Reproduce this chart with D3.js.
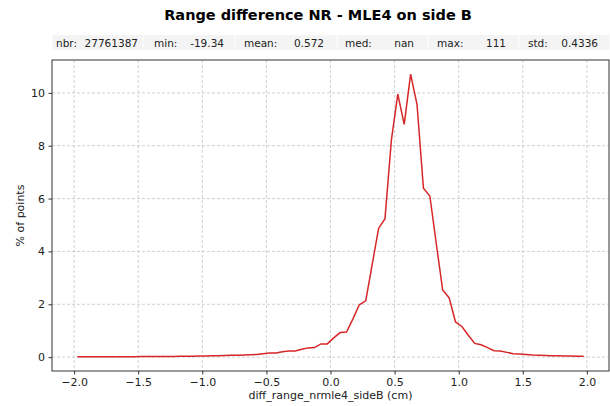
<!DOCTYPE html>
<html>
<head>
<meta charset="utf-8">
<script src="https://cdn.jsdelivr.net/npm/d3@7"></script>
<style>
  body { margin: 0; background: #fff; }
  svg { display: block; font-family: "DejaVu Sans", sans-serif; }
  .grid line { stroke: #c4c4c4; stroke-width: 0.8; stroke-dasharray: 3,2; }
  .axis path, .axis line { stroke: #333; }
  .axis text { fill: #222; font-size: 11px; font-family: "DejaVu Sans", sans-serif; }
</style>
</head>
<body>
<div id="chart"></div>
<script>
// bin centres (cm) and share of points (%) per bin
const binCenters = [
  -1.975, -1.925, -1.875, -1.825, -1.775, -1.725, -1.675, -1.625, -1.575, -1.525,
  -1.475, -1.425, -1.375, -1.325, -1.275, -1.225, -1.175, -1.125, -1.075, -1.025,
  -0.975, -0.925, -0.875, -0.825, -0.775, -0.725, -0.675, -0.625, -0.575, -0.525,
  -0.475, -0.425, -0.375, -0.325, -0.275, -0.225, -0.175, -0.125, -0.075, -0.025,
  0.025, 0.075, 0.125, 0.175, 0.225, 0.275, 0.325, 0.375, 0.425, 0.475,
  0.525, 0.575, 0.625, 0.675, 0.725, 0.775, 0.825, 0.875, 0.925, 0.975,
  1.025, 1.075, 1.125, 1.175, 1.225, 1.275, 1.325, 1.375, 1.425, 1.475,
  1.525, 1.575, 1.625, 1.675, 1.725, 1.775, 1.825, 1.875, 1.925, 1.975
];
const pctPoints = [
  0.01, 0.01, 0.01, 0.01, 0.01, 0.01, 0.01, 0.01, 0.01, 0.01,
  0.02, 0.02, 0.02, 0.02, 0.02, 0.02, 0.03, 0.03, 0.03, 0.04,
  0.04, 0.05, 0.05, 0.06, 0.07, 0.07, 0.08, 0.09, 0.10, 0.13,
  0.16, 0.16, 0.20, 0.23, 0.23, 0.30, 0.35, 0.36, 0.50, 0.50,
  0.73, 0.93, 0.95, 1.45, 1.98, 2.13, 3.50, 4.87, 5.24, 8.21,
  9.95, 8.81, 10.71, 9.56, 6.39, 6.10, 4.30, 2.54, 2.25, 1.33,
  1.16, 0.83, 0.52, 0.47, 0.36, 0.24, 0.23, 0.18, 0.13, 0.12,
  0.10, 0.08, 0.07, 0.06, 0.05, 0.05, 0.04, 0.04, 0.03, 0.03
];
const xTicks = [-2.0, -1.5, -1.0, -0.5, 0.0, 0.5, 1.0, 1.5, 2.0];
const yTicks = [0, 2, 4, 6, 8, 10];
const statNames = ["nbr:", "min:", "mean:", "med:", "max:", "std:"];
const statValues = ["27761387", "-19.34", "0.572", "nan", "111", "0.4336"];

const width = 610, height = 406;
const margin = {top: 60, right: 1, bottom: 35, left: 52};

const svg = d3.select("#chart").append("svg")
    .attr("width", width)
    .attr("height", height);

// title
svg.append("text")
    .attr("x", 318)
    .attr("y", 20)
    .attr("text-anchor", "middle")
    .style("font-weight", "bold")
    .style("font-size", "14.5px")
    .text("Range difference NR - MLE4 on side B");

// stats strip (one cell per statistic)
const cellEdges = [52, 143, 235, 337, 428, 519, 610];
const labelX = [56, 154, 244, 345, 437, 528];
const valueRight = [138, 224, 324, 414, 506, 598];
const stats = svg.append("g").attr("class", "stats");
statNames.forEach((name, i) => {
  stats.append("rect")
      .attr("x", cellEdges[i] + 0.5)
      .attr("y", 35)
      .attr("width", cellEdges[i + 1] - cellEdges[i] - 1)
      .attr("height", 15)
      .attr("fill", "#f4f4f4");
  stats.append("text")
      .attr("x", labelX[i])
      .attr("y", 47)
      .style("font-size", "10.5px")
      .attr("fill", "#222")
      .text(name);
  stats.append("text")
      .attr("x", valueRight[i])
      .attr("y", 47)
      .attr("text-anchor", "end")
      .style("font-size", "10.5px")
      .attr("fill", "#222")
      .text(statValues[i]);
});

const innerW = width - margin.left - margin.right;
const innerH = height - margin.top - margin.bottom;

const xMin = d3.min(binCenters), xMax = d3.max(binCenters);
const xPad = (xMax - xMin) * 0.05;
const x = d3.scaleLinear()
    .domain([xMin - xPad, xMax + xPad])
    .range([margin.left, margin.left + innerW]);

const yMax = d3.max(pctPoints), yMin = d3.min(pctPoints);
const yPad = (yMax - yMin) * 0.05;
const y = d3.scaleLinear()
    .domain([yMin - yPad, yMax + yPad])
    .range([margin.top + innerH, margin.top]);

// grid
const grid = svg.append("g").attr("class", "grid");
grid.selectAll(".gx").data(xTicks).enter().append("line")
    .attr("x1", d => x(d)).attr("x2", d => x(d))
    .attr("y1", margin.top).attr("y2", margin.top + innerH);
grid.selectAll(".gy").data(yTicks).enter().append("line")
    .attr("x1", margin.left).attr("x2", margin.left + innerW)
    .attr("y1", d => y(d)).attr("y2", d => y(d));

// series
const line = d3.line()
    .x((d, i) => x(binCenters[i]))
    .y(d => y(d));

svg.append("path")
    .datum(pctPoints)
    .attr("fill", "none")
    .attr("stroke", "#d62728")
    .attr("stroke-width", 1.5)
    .attr("d", line);

// axes
const fmt = d => d3.format(".1f")(d).replace("-", "\u2212");
svg.append("g")
    .attr("class", "axis")
    .attr("transform", `translate(0,${margin.top + innerH})`)
    .call(d3.axisBottom(x).tickValues(xTicks).tickFormat(fmt).tickSize(3.5).tickPadding(3.5));

svg.append("g")
    .attr("class", "axis")
    .attr("transform", `translate(${margin.left},0)`)
    .call(d3.axisLeft(y).tickValues(yTicks).tickFormat(d3.format("d")).tickSize(3.5).tickPadding(3.5));

// frame
svg.append("rect")
    .attr("x", margin.left)
    .attr("y", margin.top)
    .attr("width", innerW)
    .attr("height", innerH)
    .attr("fill", "none")
    .attr("stroke", "#333")
    .attr("stroke-width", 1);

svg.selectAll(".axis .domain").remove();

// axis labels
svg.append("text")
    .attr("x", margin.left + innerW / 2)
    .attr("y", 399)
    .attr("text-anchor", "middle")
    .style("font-size", "11px")
    .attr("fill", "#222")
    .text("diff_range_nrmle4_sideB (cm)");

svg.append("text")
    .attr("transform", `translate(24,${margin.top + innerH / 2}) rotate(-90)`)
    .attr("text-anchor", "middle")
    .style("font-size", "11px")
    .attr("fill", "#222")
    .text("% of points");
</script>
</body>
</html>
